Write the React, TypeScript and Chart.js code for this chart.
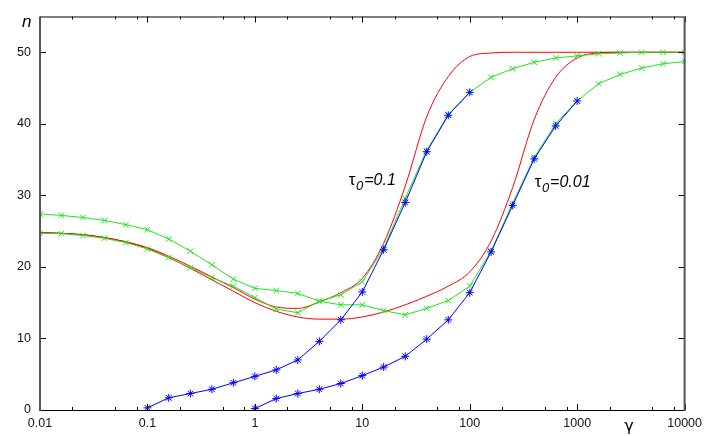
import React, { useEffect, useRef } from "react";
import { Chart, registerables } from "chart.js";
Chart.register(...registerables);

// gamma grid (0.2 decade steps) used by the red and green curves
const GAMMA = [
  0.01, 0.0158, 0.0251, 0.0398, 0.0631, 0.1, 0.158, 0.251, 0.398, 0.631,
  1, 1.58, 2.51, 3.98, 6.31, 10, 15.8, 25.1, 39.8, 63.1,
  100, 158, 251, 398, 631, 1000, 1580, 2510, 3980, 6310, 10000,
];

// red smooth curves
const RED_TAU01 = [
  24.8, 24.7, 24.5, 24.1, 23.5, 22.7, 21.5, 20.1, 18.6, 17.1,
  15.5, 14.4, 14.2, 15.1, 16.4, 18.4, 23.3, 31.3, 41.0, 46.6,
  49.4, 49.9, 50, 50, 50, 50, 50, 50, 50, 50, 50,
];
const RED_TAU001 = [
  24.8, 24.7, 24.5, 24.1, 23.5, 22.6, 21.3, 19.8, 18.2, 16.6,
  15.0, 13.8, 13.0, 12.7, 12.7, 13.0, 13.7, 14.7, 15.9, 17.3,
  19.3, 23.6, 31.1, 40.6, 46.5, 49.2, 49.9, 50, 50, 50, 50,
];

// green series (x markers)
const GREEN_TAU01 = [
  24.7, 24.65, 24.4, 24.0, 23.4, 22.5, 21.3, 19.9, 18.5, 17.3,
  15.7, 14.1, 13.6, 15.2, 16.1, 17.9, 22.6, 29.6, 36.3, 41.3,
  44.4, 46.5, 47.7, 48.6, 49.2, 49.5, 49.8, 49.9, 50, 50, 50,
];
const GREEN_TAU001 = [
  27.4, 27.2, 26.9, 26.5, 25.9, 25.2, 23.9, 22.2, 20.3, 18.3,
  17.0, 16.7, 16.3, 15.2, 14.7, 14.7, 13.9, 13.3, 14.2, 15.3,
  17.3, 22.2, 28.9, 35.3, 40.0, 43.2, 45.6, 46.9, 47.8, 48.4, 48.7,
];

// blue series (asterisk markers)
const BLUE_GAMMA_TAU01 = [
  0.1, 0.158, 0.251, 0.398, 0.631, 1, 1.58, 2.51, 3.98, 6.31,
  10, 15.8, 25.1, 39.8, 63.1, 100,
];
const BLUE_TAU01 = [
  0.3, 1.7, 2.3, 2.9, 3.8, 4.7, 5.6, 7.0, 9.6, 12.6,
  16.5, 22.4, 29.0, 36.1, 41.2, 44.4,
];
const BLUE_GAMMA_TAU001 = [
  1, 1.58, 2.51, 3.98, 6.31, 10, 15.8, 25.1, 39.8, 63.1,
  100, 158, 251, 398, 631, 1000,
];
const BLUE_TAU001 = [
  0.2, 1.6, 2.3, 2.9, 3.7, 4.8, 6.0, 7.5, 9.9, 12.6,
  16.4, 22.1, 28.6, 35.1, 39.7, 43.2,
];

const X_TICKS = [0.01, 0.1, 1, 10, 100, 1000, 10000];
const X_TICK_LABELS = ["0.01", "0.1", "1", "10", "100", "1000", "10000"];
const X_MINOR_MANTISSAS = [2, 5, 8];
const Y_TICKS = [0, 10, 20, 30, 40, 50];
const Y_TICK_LABELS = ["0", "10", "20", "30", "40", "50"];

const ANNOT_GAMMA = [7.49, 402];
const ANNOT_N = [31.5, 31.2];
const ANNOT_VALUE = ["=0.1", "=0.01"];

const RED = "rgb(255,0,0)";
const GREEN = "rgb(30,230,30)";
const BLUE = "rgb(0,0,255)";
const SANS = "'Liberation Sans', Arial, Helvetica, sans-serif";

const pts = (xs: number[], ys: number[]) => xs.map((x, i) => ({ x, y: ys[i] }));

const framePlugin = {
  id: "gnuFrame",
  afterDatasetsDraw(chart: any) {
    const { ctx, chartArea: a, scales } = chart;
    const x = scales.x;
    const y = scales.y;
    ctx.save();
    // ticks (inward, mirrored)
    ctx.strokeStyle = "#000";
    ctx.lineWidth = 1;
    ctx.beginPath();
    for (const v of Y_TICKS) {
      const py = Math.round(y.getPixelForValue(v)) + 0.5;
      ctx.moveTo(a.left, py);
      ctx.lineTo(a.left + 6, py);
      ctx.moveTo(a.right, py);
      ctx.lineTo(a.right - 6, py);
    }
    for (const v of X_TICKS) {
      const px = Math.round(x.getPixelForValue(v)) + 0.5;
      ctx.moveTo(px, a.top);
      ctx.lineTo(px, a.top + 6);
      ctx.moveTo(px, a.bottom);
      ctx.lineTo(px, a.bottom - 6);
    }
    for (let d = 0; d < X_TICKS.length - 1; d++) {
      for (const m of X_MINOR_MANTISSAS) {
        const px = Math.round(x.getPixelForValue(X_TICKS[d] * m)) + 0.5;
        ctx.moveTo(px, a.top);
        ctx.lineTo(px, a.top + 3);
        ctx.moveTo(px, a.bottom);
        ctx.lineTo(px, a.bottom - 3);
      }
    }
    ctx.stroke();
    // frame
    ctx.lineWidth = 1.2;
    ctx.strokeStyle = "#000";
    ctx.beginPath();
    ctx.moveTo(a.left, a.top + 0.5);
    ctx.lineTo(a.right, a.top + 0.5);
    ctx.moveTo(a.left, a.bottom + 0.5);
    ctx.lineTo(a.right, a.bottom + 0.5);
    ctx.stroke();
    ctx.strokeStyle = "#555";
    ctx.lineWidth = 2;
    ctx.beginPath();
    ctx.moveTo(a.left, a.top);
    ctx.lineTo(a.left, a.bottom + 1);
    ctx.moveTo(a.right, a.top);
    ctx.lineTo(a.right, a.bottom + 1);
    ctx.stroke();

    // axis titles
    ctx.fillStyle = "#000";
    ctx.textBaseline = "alphabetic";
    ctx.textAlign = "left";
    ctx.font = `italic 17px ${SANS}`;
    ctx.fillText("n", 22, 27);
    ctx.font = `16px 'DejaVu Sans', ${SANS}`;
    ctx.textAlign = "center";
    ctx.fillText("γ", 629, 431);

    // annotations
    ctx.textAlign = "left";
    for (let i = 0; i < ANNOT_GAMMA.length; i++) {
      let px = x.getPixelForValue(ANNOT_GAMMA[i]);
      const py = y.getPixelForValue(ANNOT_N[i]);
      ctx.font = `17px ${SANS}`;
      ctx.fillText("τ", px, py);
      px += ctx.measureText("τ").width + 0.5;
      ctx.font = `italic 13px ${SANS}`;
      ctx.fillText("0", px, py + 5);
      px += ctx.measureText("0").width + 1;
      ctx.font = `italic 16px ${SANS}`;
      ctx.fillText(ANNOT_VALUE[i], px, py);
    }
    ctx.restore();
  },
};

export default function App() {
  const ref = useRef<HTMLCanvasElement | null>(null);
  useEffect(() => {
    document.body.style.margin = "0";
    const canvas = ref.current;
    if (!canvas) return;
    const lineBase = { borderWidth: 1, tension: 0, fill: false, pointBorderWidth: 1 };
    const chart = new Chart(canvas, {
      type: "line",
      data: {
        datasets: [
          {
            ...lineBase,
            label: "blue τ0=0.1",
            data: pts(BLUE_GAMMA_TAU01, BLUE_TAU01),
            borderColor: BLUE,
            backgroundColor: BLUE,
            pointBorderColor: BLUE,
            pointStyle: "star",
            pointRadius: 4,
          },
          {
            ...lineBase,
            label: "blue τ0=0.01",
            data: pts(BLUE_GAMMA_TAU001, BLUE_TAU001),
            borderColor: BLUE,
            backgroundColor: BLUE,
            pointBorderColor: BLUE,
            pointStyle: "star",
            pointRadius: 4,
          },
          {
            ...lineBase,
            label: "green τ0=0.1",
            data: pts(GAMMA, GREEN_TAU01),
            borderColor: GREEN,
            backgroundColor: GREEN,
            pointBorderColor: GREEN,
            pointStyle: "crossRot",
            pointRadius: 4,
          },
          {
            ...lineBase,
            label: "green τ0=0.01",
            data: pts(GAMMA, GREEN_TAU001),
            borderColor: GREEN,
            backgroundColor: GREEN,
            pointBorderColor: GREEN,
            pointStyle: "crossRot",
            pointRadius: 4,
          },
          {
            ...lineBase,
            label: "red τ0=0.1",
            data: pts(GAMMA, RED_TAU01),
            borderColor: RED,
            pointRadius: 0,
            cubicInterpolationMode: "monotone",
          },
          {
            ...lineBase,
            label: "red τ0=0.01",
            data: pts(GAMMA, RED_TAU001),
            borderColor: RED,
            pointRadius: 0,
            cubicInterpolationMode: "monotone",
          },
        ] as any,
      },
      options: {
        animation: false,
        responsive: false,
        devicePixelRatio: 1,
        layout: { padding: { left: 0, right: 23, top: 14, bottom: 0 } },
        plugins: { legend: { display: false }, tooltip: { enabled: false } },
        scales: {
          x: {
            type: "logarithmic",
            min: 0.01,
            max: 10000,
            afterBuildTicks: (s: any) => {
              s.ticks = X_TICKS.map((v) => ({ value: v }));
            },
            afterFit: (s: any) => {
              s.height = 26;
            },
            grid: { display: false, drawTicks: false },
            border: { display: false },
            ticks: {
              autoSkip: false,
              maxRotation: 0,
              padding: 6,
              color: "#111",
              font: { family: SANS, size: 12.5 },
              callback: (v: any) => {
                const i = X_TICKS.indexOf(Number(v));
                return i >= 0 ? X_TICK_LABELS[i] : "";
              },
            },
          },
          y: {
            type: "linear",
            min: 0,
            max: 55,
            afterBuildTicks: (s: any) => {
              s.ticks = Y_TICKS.map((v) => ({ value: v }));
            },
            afterFit: (s: any) => {
              s.width = 40;
            },
            grid: { display: false, drawTicks: false },
            border: { display: false },
            ticks: {
              padding: 9,
              color: "#111",
              font: { family: SANS, size: 12.5 },
              callback: (v: any) => {
                const i = Y_TICKS.indexOf(Number(v));
                return i >= 0 ? Y_TICK_LABELS[i] : "";
              },
            },
          },
        },
      } as any,
      plugins: [framePlugin],
    });
    return () => chart.destroy();
  }, []);
  return (
    <canvas
      ref={ref}
      width={708}
      height={436}
      style={{ display: "block", width: 708, height: 436 }}
    />
  );
}
